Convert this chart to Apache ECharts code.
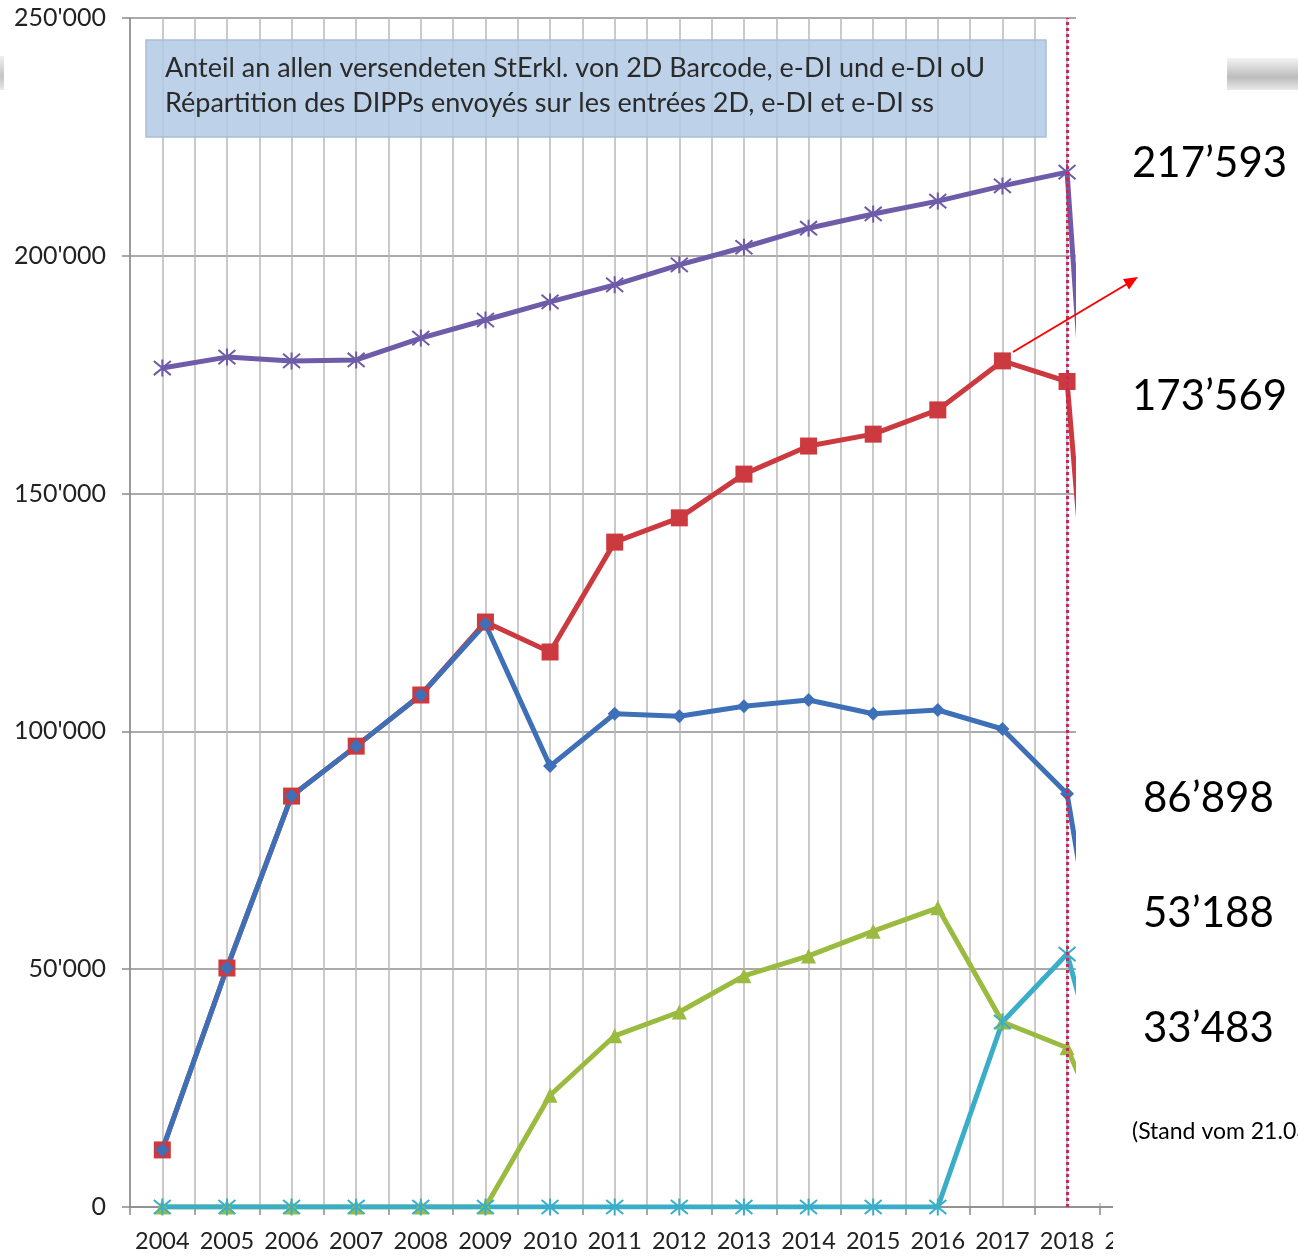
<!DOCTYPE html>
<html><head><meta charset="utf-8">
<script src="https://cdn.jsdelivr.net/npm/echarts@6/dist/echarts.min.js"></script>
<style>html,body{margin:0;padding:0;background:#fff}#c{width:1298px;height:1257px}</style>
</head><body><div id="c"></div>
<script>
// ---- data ----
const years = ['2004','2005','2006','2007','2008','2009','2010','2011','2012','2013','2014','2015','2016','2017','2018','2019'];
const totalSeries = [176400,178700,177900,178100,182700,186500,190300,193900,198100,201800,205800,208800,211500,214700,217593,20000];
const redSeries   = [12000,50250,86400,96900,107650,123000,116700,139800,144900,154100,160000,162500,167600,177900,173569,12000];
const blueSeries  = [12000,50250,86400,96900,107650,122600,92700,103700,103200,105300,106600,103700,104500,100500,86898,6000];
const greenSeries = [0,0,0,0,0,0,23500,36000,41000,48600,52800,58000,62900,38900,33483,2000];
const cyanSeries  = [0,0,0,0,0,0,0,0,0,0,0,0,0,38900,53188,4000];
const yTickLabels = { 0:'0', 50000:"50'000", 100000:"100'000", 150000:"150'000", 200000:"200'000", 250000:"250'000" };
const titleLines = ['Anteil an allen versendeten StErkl. von 2D Barcode, e-DI und e-DI oU',
                    'Répartition des DIPPs envoyés sur les entrées 2D, e-DI et e-DI ss'];
const sideValues = ['217’593','173’569','86’898','53’188','33’483'];
const noteText = '(Stand vom 21.03.2019)';

const halfSlots = years.flatMap(y => [y + 'a', y + 'b']);
const starPath = 'path://M0,0L10,10M10,0L0,10M5,-1L5,11';
const FONT = 'Lato, "Open Sans", sans-serif';

const chart = echarts.init(document.getElementById('c'));

function lineSeries(name, data, color, symbol, size, extra) {
  const s = {
    name, type: 'line', data, xAxisIndex: 0,
    symbol, symbolSize: size,
    lineStyle: { color, width: 5 },
    itemStyle: { color, borderColor: color, borderWidth: symbol.startsWith('path') ? 2 : 0 },
    emphasis: { disabled: true }
  };
  return Object.assign(s, extra || {});
}

const option = {
  animation: false,
  backgroundColor: '#fff',
  grid: { left: 130, right: 134, top: 18, bottom: 50 },
  xAxis: [
    {
      type: 'category', data: years, boundaryGap: true,
      axisLine: { lineStyle: { color: '#8a8a8a', width: 1.5 } },
      axisTick: { show: true, length: 8, lineStyle: { color: '#8a8a8a', width: 1.5 } },
      axisLabel: { fontSize: 23.5, color: '#222', margin: 22, interval: 0, fontFamily: FONT },
      splitLine: { show: false }
    },
    {
      type: 'category', data: halfSlots, boundaryGap: true, position: 'bottom',
      axisLine: { show: false }, axisTick: { show: false }, axisLabel: { show: false },
      splitLine: { show: true, interval: 0, lineStyle: { color: '#b8b8b8', width: 1.5 } }
    }
  ],
  yAxis: {
    type: 'value', min: 0, max: 250000, interval: 50000,
    axisLine: { show: true, lineStyle: { color: '#8a8a8a', width: 1.5 } },
    axisTick: { show: true, length: 8, lineStyle: { color: '#8a8a8a', width: 1.5 } },
    axisLabel: { fontSize: 25, color: '#222', margin: 24, fontFamily: FONT,
                 formatter: v => yTickLabels[v] !== undefined ? yTickLabels[v] : String(v) },
    splitLine: { show: true, lineStyle: { color: '#8e8e8e', width: 1.5 } }
  },
  series: [
    lineSeries('red', redSeries, '#cc3a3f', 'rect', 17),
    lineSeries('blue', blueSeries, '#3e70b8', 'diamond', 14),
    lineSeries('total', totalSeries, '#6e5ca8', starPath, 17),
    lineSeries('green', greenSeries, '#9bbb40', 'triangle', 15),
    lineSeries('cyan', cyanSeries, '#3aaec8', starPath, 17, {
      markLine: {
        silent: true, symbol: ['none', 'none'], label: { show: false },
        lineStyle: { color: '#c8285a', width: 3, type: [3, 3] },
        data: [{ xAxis: '2018' }]
      }
    })
  ],
  graphic: [
    // clipping of the original screenshot
    { type: 'rect', z: 100, shape: { x: 1076, y: 0, width: 222, height: 1203 }, style: { fill: '#fff' } },
    { type: 'rect', z: 100, shape: { x: 1113, y: 1195, width: 185, height: 62 }, style: { fill: '#fff' } },
    // title box
    { type: 'rect', z: 90, shape: { x: 146, y: 40, width: 900, height: 97 },
      style: { fill: 'rgba(178,202,228,0.85)', stroke: '#a9bdd6', lineWidth: 1.5 } },
    { type: 'text', z: 91, x: 165, y: 68, style: { text: titleLines[0], font: '27px ' + FONT, fill: '#2a2a2a', verticalAlign: 'middle' } },
    { type: 'text', z: 91, x: 165, y: 103, style: { text: titleLines[1], font: '27px ' + FONT, fill: '#2a2a2a', verticalAlign: 'middle' } },
    // side values
    { type: 'text', z: 110, x: 1132, y: 163, style: { text: sideValues[0], font: '42px ' + FONT, fill: '#000', verticalAlign: 'middle' } },
    { type: 'text', z: 110, x: 1132, y: 396, style: { text: sideValues[1], font: '42px ' + FONT, fill: '#000', verticalAlign: 'middle' } },
    { type: 'text', z: 110, x: 1143, y: 798, style: { text: sideValues[2], font: '42px ' + FONT, fill: '#000', verticalAlign: 'middle' } },
    { type: 'text', z: 110, x: 1143, y: 913, style: { text: sideValues[3], font: '42px ' + FONT, fill: '#000', verticalAlign: 'middle' } },
    { type: 'text', z: 110, x: 1143, y: 1028, style: { text: sideValues[4], font: '42px ' + FONT, fill: '#000', verticalAlign: 'middle' } },
    { type: 'text', z: 110, x: 1132, y: 1132, style: { text: noteText, font: '23px ' + FONT, fill: '#000', verticalAlign: 'middle' } },
    // red arrow
    { type: 'line', z: 110, shape: { x1: 1013, y1: 352, x2: 1127, y2: 284 }, style: { stroke: '#ff0000', lineWidth: 2 } },
    { type: 'polygon', z: 110, shape: { points: [[1138, 277], [1129, 289.5], [1123, 279]] }, style: { fill: '#ff0000' } },
    // grey bars
    { type: 'rect', z: 110, shape: { x: 1227, y: 58, width: 71, height: 32 },
      style: { fill: new echarts.graphic.LinearGradient(0, 0, 0, 1, [
        { offset: 0, color: '#f4f4f4' }, { offset: 0.6, color: '#bcbcbc' }, { offset: 1, color: '#e8e8e8' }]) } },
    { type: 'rect', z: 110, shape: { x: 0, y: 56, width: 4, height: 34 },
      style: { fill: new echarts.graphic.LinearGradient(0, 0, 0, 1, [
        { offset: 0, color: '#f0f0f0' }, { offset: 0.6, color: '#c4c4c4' }, { offset: 1, color: '#e8e8e8' }]) } }
  ]
};
chart.setOption(option);
</script>
</body></html>
